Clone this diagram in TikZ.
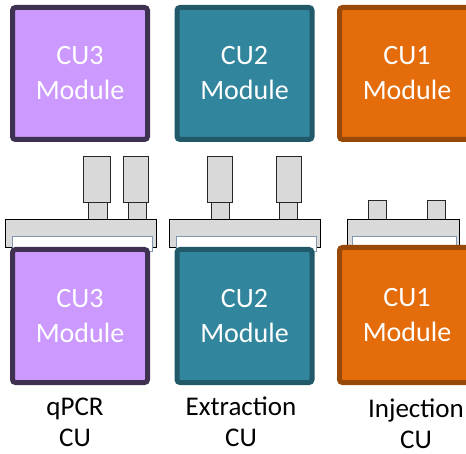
\documentclass[tikz,border=0pt]{standalone}
\usepackage{fontspec}
\setmainfont{Carlito}
\usepackage{xcolor}
\usepackage{tikz}
\usetikzlibrary{positioning}
\definecolor{qpcrfill}{HTML}{CC99FF}
\definecolor{qpcrline}{HTML}{3F3151}
\definecolor{extrfill}{HTML}{31859C}
\definecolor{extrline}{HTML}{215968}
\definecolor{injfill}{HTML}{E46C0A}
\definecolor{injline}{HTML}{984807}
\definecolor{lidgray}{HTML}{D9D9D9}
\definecolor{lidrim}{HTML}{8497B0}
\tikzset{
  module/.style={rectangle,rounded corners=3pt,line width=5pt,minimum width=135pt,
    text=white,align=center,font=\fontsize{28}{35}\selectfont},
  qpcrbox/.style={module,fill=qpcrfill,draw=qpcrline},
  extrbox/.style={module,fill=extrfill,draw=extrline},
  injbox/.style={module,fill=injfill,draw=injline},
  lidbody/.style={fill=lidgray,draw=black,line width=1pt},
  lidgap/.style={fill=white,draw=lidrim,line width=1pt},
  post/.style={fill=lidgray,draw=black!85,line width=0.9pt},
  culabel/.style={align=center,text=black,inner sep=0pt,font=\fontsize{27}{31}\selectfont}
}

\begin{document}
\begin{tikzpicture}[x=1pt,y=-1pt]
  \useasboundingbox (0,0) rectangle (466,454);
  \clip (0,0) rectangle (466,454);
  % top modules
  \node[qpcrbox,minimum height=132pt] (cu3top) at (80,73.5) {CU3\\Module};
  \node[extrbox,minimum height=132pt] (cu2top) at (244.5,73.5) {CU2\\Module};
  \node[injbox,minimum height=132pt] (cu1top) at (407,73.5) {CU1\\Module};
  % lids with posts
  \draw[post] (83,156) rectangle (110,202);
  \draw[post] (88,202) rectangle (107,220);
  \draw[post] (123,156) rectangle (148,202);
  \draw[post] (128,202) rectangle (146,220);
  \draw[lidbody] (5,220) rectangle (156,248);
  \draw[lidgap] (12,237) rectangle (152,252);
  \draw[post] (207,156) rectangle (232,202);
  \draw[post] (211,202) rectangle (229,220);
  \draw[post] (276,156) rectangle (301,202);
  \draw[post] (279,202) rectangle (297,220);
  \draw[lidbody] (169,220) rectangle (320,248);
  \draw[lidgap] (176,237) rectangle (316,252);
  \draw[post] (368,200) rectangle (386,220);
  \draw[post] (427,200) rectangle (445,220);
  \draw[lidbody] (347,220) rectangle (459,248);
  \draw[lidgap] (352,237) rectangle (456,252);
  % bottom modules
  \node[qpcrbox,minimum height=133pt] (cu3bot) at (80,316) {CU3\\Module};
  \node[extrbox,minimum height=133pt] (cu2bot) at (244.5,316) {CU2\\Module};
  \node[injbox,minimum height=135pt] (cu1bot) at (407,315) {CU1\\Module};
  % unit names
  \node[culabel] (qpcr) at (75,422) {qPCR\\CU};
  \node[culabel] (extr) at (241,422) {Extraction\\CU};
  \node[culabel] (inj) at (416,424) {Injection\\CU};
\end{tikzpicture}
\end{document}
